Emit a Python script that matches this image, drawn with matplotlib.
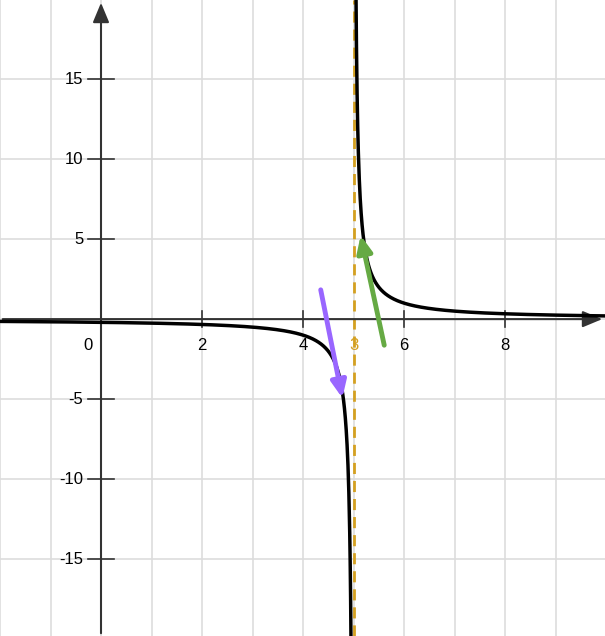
import numpy as np
import matplotlib.pyplot as plt

plt.rcParams['font.family'] = ['Liberation Sans', 'DejaVu Sans']

x_ticks = [2, 4, 6, 8]
y_ticks = [-15, -10, -5, 5, 10, 15]
asymptote_x = 5
asymptote_label = "3"
purple_arrow = [(4.34, 2.0), (4.79, -5.1)]
green_arrow = [(5.62, -1.8), (5.13, 5.4)]

fig = plt.figure(figsize=(6.05, 6.36), dpi=100)
ax = fig.add_axes([0, 0, 1, 1])
xmin, xmax, ymin, ymax = -2, 9.98, -19.8, 19.94
ax.set_xlim(xmin, xmax)
ax.set_ylim(ymin, ymax)
ax.axis('off')

# grid
for gx in range(-2, 10):
    ax.axvline(gx, color='#dddddd', lw=1.2, zorder=0)
for gy in range(-15, 20, 5):
    ax.axhline(gy, color='#dddddd', lw=1.2, zorder=0)

# axes with arrow heads
ax.annotate('', xy=(xmax, 0), xytext=(xmin, 0),
            arrowprops=dict(arrowstyle='-|>,head_length=1.2,head_width=0.5', color='#333333', lw=1.5))
ax.annotate('', xy=(0, ymax), xytext=(0, ymin),
            arrowprops=dict(arrowstyle='-|>,head_length=1.2,head_width=0.5', color='#333333', lw=1.5))

# tick marks + labels
for t in x_ticks:
    ax.plot([t, t], [-0.5, 0.5], color='#333333', lw=1.2)
    ax.text(t, -1.2, str(t), ha='center', va='top', fontsize=12)
ax.text(-0.25, -1.2, '0', ha='center', va='top', fontsize=12)
ax.text(asymptote_x, -1.2, asymptote_label, ha='center', va='top', fontsize=12, color='#d4a020')
for t in y_ticks:
    ax.plot([-0.25, 0.25], [t, t], color='#333333', lw=1.2)
    ax.text(-0.35, t, str(t), ha='right', va='center', fontsize=12)

# asymptote
ax.axvline(asymptote_x, color='#d4a020', lw=2, ls=(0, (4, 2.5)), zorder=2)

# curve y = 1/(x-5)
xl = np.linspace(xmin, asymptote_x - 0.04, 800)
xr = np.linspace(asymptote_x + 0.04, xmax, 800)
ax.plot(xl, 1 / (xl - asymptote_x), color='black', lw=2.5, zorder=3)
ax.plot(xr, 1 / (xr - asymptote_x), color='black', lw=2.5, zorder=3)

for (p0, p1), c in [(purple_arrow, '#9966ff'), (green_arrow, '#66aa44')]:
    ax.annotate('', xy=p1, xytext=p0,
                arrowprops=dict(arrowstyle='-|>,head_length=1.0,head_width=0.45', color=c, lw=3.5),
                zorder=4)

fig.savefig('out.png')
